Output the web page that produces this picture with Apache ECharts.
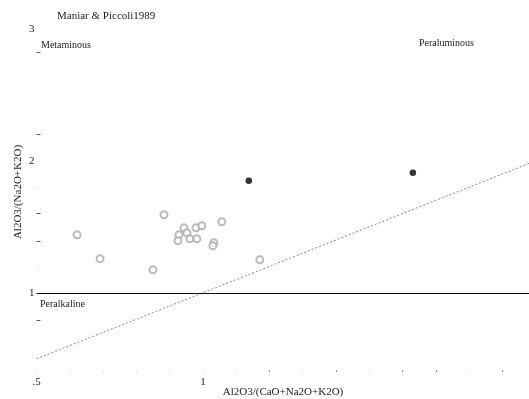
<!DOCTYPE html>
<html><head><meta charset="utf-8">
<script src="https://cdn.jsdelivr.net/npm/echarts@6/dist/echarts.min.js"></script>
<style>html,body{margin:0;padding:0;background:#fff}#c{width:529px;height:399px}</style>
</head><body><div id="c"></div>
<script>
// Open-circle samples [A/CNK, A/NK]
const openPts = [
  [0.622,1.439],[0.691,1.258],[0.850,1.174],[0.883,1.591],[0.943,1.492],
  [0.952,1.455],[0.928,1.439],[0.925,1.394],[0.961,1.409],[0.982,1.409],
  [0.979,1.492],[0.997,1.508],[1.057,1.538],[1.033,1.379],[1.030,1.356],
  [1.171,1.250]
];
// Filled-circle samples
const filledPts = [[1.138,1.848],[1.631,1.909]];
// Reference line A/NK = A/CNK
const diagLine = [[0.5,0.5],[1.98,1.98]];
const xLabels = [0.5, 1];
const yLabels = [1, 2, 3];
const xTicksLight = [0.5,0.6,0.7,0.8,0.9,1.0,1.1,1.3,1.5,1.8];
const xTicksDark = [1.2,1.4,1.6,1.7,1.9];
const yTicks = [0.79,1.39,1.6,2.2,2.82];
const yTicksFaint = [1.21,1.8,2.0];
const xName = 'Al2O3/(CaO+Na2O+K2O)';
const yName = 'Al2O3/(Na2O+K2O)';

const serif = '"Liberation Serif","DejaVu Serif",serif';
const chart = echarts.init(document.getElementById('c'));
chart.setOption({
  animation:false,
  backgroundColor:'#fff',
  title:{text:'Maniar & Piccoli1989',left:52,top:6,textStyle:{fontFamily:serif,fontSize:11,fontWeight:'normal',color:'#222'}},
  grid:{left:36.5,right:0,top:2.4,bottom:27,containLabel:false,outerBoundsMode:'none'},
  xAxis:[{
    type:'value',min:0.5,max:1.98,position:'bottom',
    axisLine:{show:false},splitLine:{show:false},
    axisTick:{show:true,customValues:xTicksLight,length:2,inside:true,lineStyle:{color:'#ddd'}},
    axisLabel:{customValues:xLabels,margin:5,fontFamily:serif,fontSize:11,color:'#222',
      formatter:v=>v===0.5?'.5':String(v)}
  },{
    type:'value',min:0.5,max:1.98,position:'bottom',offset:0,
    axisLine:{show:false},splitLine:{show:false},axisLabel:{show:false},
    axisTick:{show:true,customValues:xTicksDark,length:2,inside:true,lineStyle:{color:'#888'}}
  }],
  yAxis:[{
    type:'value',min:0.4,max:3.2,
    axisLine:{show:false},splitLine:{show:false},
    axisTick:{show:true,customValues:yTicks,length:4,inside:true,lineStyle:{color:'#555'}},
    axisLabel:{customValues:yLabels,margin:2,fontFamily:serif,fontSize:11,color:'#222'}
  },{
    type:'value',min:0.4,max:3.2,position:'left',offset:0,
    axisLine:{show:false},splitLine:{show:false},axisLabel:{show:false},
    axisTick:{show:true,customValues:yTicksFaint,length:4,inside:true,lineStyle:{color:'#eee'}}
  }],
  series:[
    {type:'line',data:diagLine,symbol:'none',silent:true,
      lineStyle:{color:'#888',width:1,type:[2,2]},
      markLine:{symbol:'none',silent:true,label:{show:false},
        lineStyle:{color:'#111',width:1,type:'solid'},data:[{yAxis:1}]}},
    {type:'scatter',data:openPts,symbol:'emptyCircle',symbolSize:7,
      itemStyle:{color:'#aaa',borderColor:'#aaa',borderWidth:0.8}},
    {type:'scatter',data:filledPts,symbol:'circle',symbolSize:6.5,itemStyle:{color:'#000'}}
  ],
  graphic:[
    {type:'text',left:41,top:40,style:{text:'Metaminous',font:'10px '+serif,fill:'#222'}},
    {type:'text',left:419,top:38,style:{text:'Peraluminous',font:'10px '+serif,fill:'#222'}},
    {type:'text',left:40,top:299,style:{text:'Peralkaline',font:'10px '+serif,fill:'#222'}},
    {type:'text',x:283,y:392,style:{text:xName,font:'11px '+serif,fill:'#222',align:'center',verticalAlign:'middle'}},
    {type:'text',x:18,y:192,rotation:Math.PI/2,style:{text:yName,font:'11px '+serif,fill:'#222',align:'center',verticalAlign:'middle'}}
  ]
});
</script></body></html>
